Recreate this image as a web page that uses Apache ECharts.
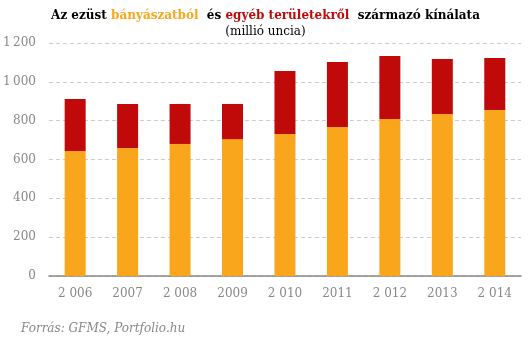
<!DOCTYPE html>
<html>
<head>
<meta charset="utf-8">
<script src="https://cdn.jsdelivr.net/npm/echarts@6/dist/echarts.min.js"></script>
<style>html,body{margin:0;padding:0;background:#fff}#c{width:531px;height:342px}</style>
</head>
<body>
<div id="c"></div>
<script>
var categories = ['2 006', '2007', '2 008', '2009', '2 010', '2011', '2 012', '2013', '2 014'];
var mining = [644, 659, 680, 705, 731, 767, 808, 834, 855];
var other = [267, 227, 206, 181, 325, 335, 325, 283, 268];
var yTicks = [0, 200, 400, 600, 800, 1000, 1200];
var yTickLabels = ['0', '200', '400', '600', '800', '1\u2009000', '1\u2009200'];

var serif = "'DejaVu Serif', 'Liberation Serif', serif";
var tfs = 12;
var chart = echarts.init(document.getElementById('c'), null, {renderer: 'canvas'});
chart.setOption({
  animation: false,
  title: [{
    text: '{k|Az ezüst }{o|bányászatból}{k|  és }{r|egyéb területekről}{k|  származó kínálata}',
    left: 'center', top: 5,
    textStyle: {
      rich: {
        k: {color: '#000', fontWeight: 'bold', fontSize: tfs, fontFamily: serif},
        o: {color: '#F9A61C', fontWeight: 'bold', fontSize: tfs, fontFamily: serif},
        r: {color: '#C00A0A', fontWeight: 'bold', fontSize: tfs, fontFamily: serif}
      }
    }
  }, {
    text: '(millió uncia)',
    left: 'center', top: 21,
    textStyle: {color: '#000', fontWeight: 'normal', fontSize: 12, fontFamily: serif}
  }, {
    text: 'Forrás: GFMS, Portfolio.hu',
    left: 16, top: 318,
    textStyle: {color: '#888', fontWeight: 'normal', fontStyle: 'italic', fontSize: 12, fontFamily: serif}
  }],
  grid: {left: 48, right: 10, top: 43, bottom: 66, containLabel: false},
  xAxis: {
    type: 'category',
    data: categories,
    axisLine: {lineStyle: {color: '#888', width: 1.5}},
    axisTick: {show: false},
    axisLabel: {color: '#888', fontSize: 12, fontFamily: serif, margin: 12}
  },
  yAxis: {
    type: 'value',
    min: yTicks[0], max: yTicks[yTicks.length - 1], interval: 200,
    axisLine: {show: false},
    axisTick: {show: false},
    axisLabel: {
      color: '#888', fontSize: 12, fontFamily: serif, margin: 13,
      formatter: function (v) { var i = yTicks.indexOf(v); return i >= 0 ? yTickLabels[i] : String(v); }
    },
    splitLine: {lineStyle: {color: '#ccc', type: [4, 3], width: 1}}
  },
  series: [{
    name: 'bányászat', type: 'bar', stack: 'total', data: mining,
    barWidth: 21, itemStyle: {color: '#F9A61C'}
  }, {
    name: 'egyéb', type: 'bar', stack: 'total', data: other,
    barWidth: 21, itemStyle: {color: '#C00A0A'}
  }]
});
</script>
</body>
</html>
